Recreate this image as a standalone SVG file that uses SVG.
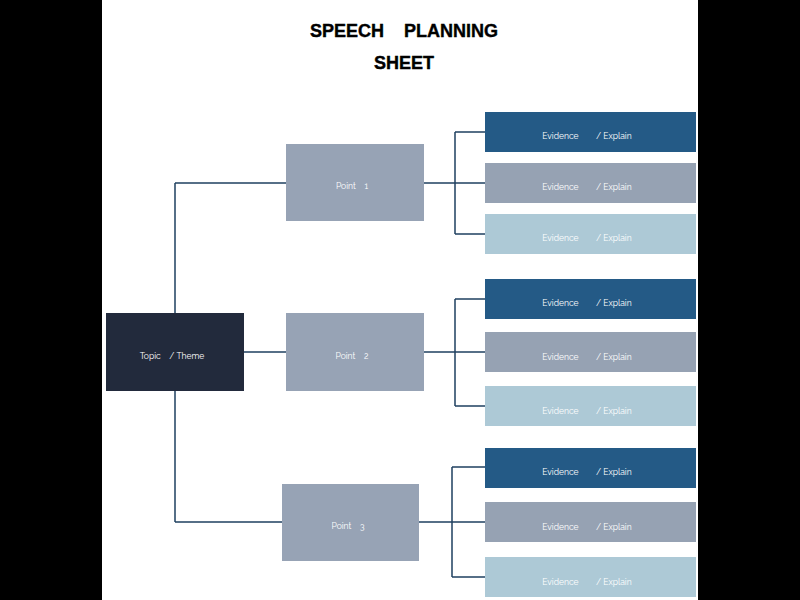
<svg xmlns="http://www.w3.org/2000/svg" width="800" height="600" viewBox="0 0 800 600">
<style>
.title{font-family:"Liberation Sans",Arial,sans-serif;font-weight:bold;font-size:18px;fill:#000;text-anchor:middle;stroke:#000;stroke-width:0.4}
.lbl{font-family:"Raleway","Lato","Liberation Sans",sans-serif;font-size:8.5px;fill:#fff;text-anchor:middle;white-space:pre}
.conn{fill:none;stroke:#1f4060;stroke-width:1.5}
.topic{fill:#222a3c}
.point{fill:#97a3b5}
.ev1{fill:#245a86}
.ev2{fill:#96a2b3}
.ev3{fill:#adc9d6}
</style>
<rect x="0" y="0" width="800" height="600" fill="#000"/>
<rect x="102" y="0" width="596" height="600" fill="#fff"/>
<text class="title" x="404" y="37" xml:space="preserve">SPEECH    PLANNING</text>
<text class="title" x="404" y="69">SHEET</text>
<g id="connectors">
<path class="conn" d="M175 183 V522 M175 183 H286 M244 352 H286 M175 522 H282"/>
<path class="conn" d="M424 183 H455 M455 132 V234 M455 132 H485 M455 183 H485 M455 234 H485"/>
<path class="conn" d="M424 352 H455 M455 299 V406 M455 299 H485 M455 352 H485 M455 406 H485"/>
<path class="conn" d="M419 522 H452 M452 467 V577 M452 467 H485 M452 522 H485 M452 577 H485"/>
</g>
<g id="topic"><rect class="topic" x="106" y="313" width="138" height="78"/><text class="lbl" x="172" y="359" xml:space="preserve">Topic    / Theme</text></g>
<g id="point1"><rect class="point" x="286" y="144" width="138" height="77"/><text class="lbl" x="352" y="189" xml:space="preserve">Point    1</text></g>
<g id="point2"><rect class="point" x="286" y="313" width="138" height="78"/><text class="lbl" x="352" y="359" xml:space="preserve">Point    2</text></g>
<g id="point3"><rect class="point" x="282" y="484" width="137" height="77"/><text class="lbl" x="348" y="529" xml:space="preserve">Point    3</text></g>
<g id="ev1a"><rect class="ev1" x="485" y="112" width="211" height="40"/><text class="lbl" x="587" y="139" xml:space="preserve">Evidence        / Explain</text></g>
<g id="ev1b"><rect class="ev2" x="485" y="163" width="211" height="40"/><text class="lbl" x="587" y="190" xml:space="preserve">Evidence        / Explain</text></g>
<g id="ev1c"><rect class="ev3" x="485" y="214" width="211" height="40"/><text class="lbl" x="587" y="241" xml:space="preserve">Evidence        / Explain</text></g>
<g id="ev2a"><rect class="ev1" x="485" y="279" width="211" height="40"/><text class="lbl" x="587" y="306" xml:space="preserve">Evidence        / Explain</text></g>
<g id="ev2b"><rect class="ev2" x="485" y="332" width="211" height="40"/><text class="lbl" x="587" y="360" xml:space="preserve">Evidence        / Explain</text></g>
<g id="ev2c"><rect class="ev3" x="485" y="386" width="211" height="40"/><text class="lbl" x="587" y="414" xml:space="preserve">Evidence        / Explain</text></g>
<g id="ev3a"><rect class="ev1" x="485" y="448" width="211" height="40"/><text class="lbl" x="587" y="475" xml:space="preserve">Evidence        / Explain</text></g>
<g id="ev3b"><rect class="ev2" x="485" y="502" width="211" height="40"/><text class="lbl" x="587" y="530" xml:space="preserve">Evidence        / Explain</text></g>
<g id="ev3c"><rect class="ev3" x="485" y="557" width="211" height="40"/><text class="lbl" x="587" y="585" xml:space="preserve">Evidence        / Explain</text></g>
</svg>
